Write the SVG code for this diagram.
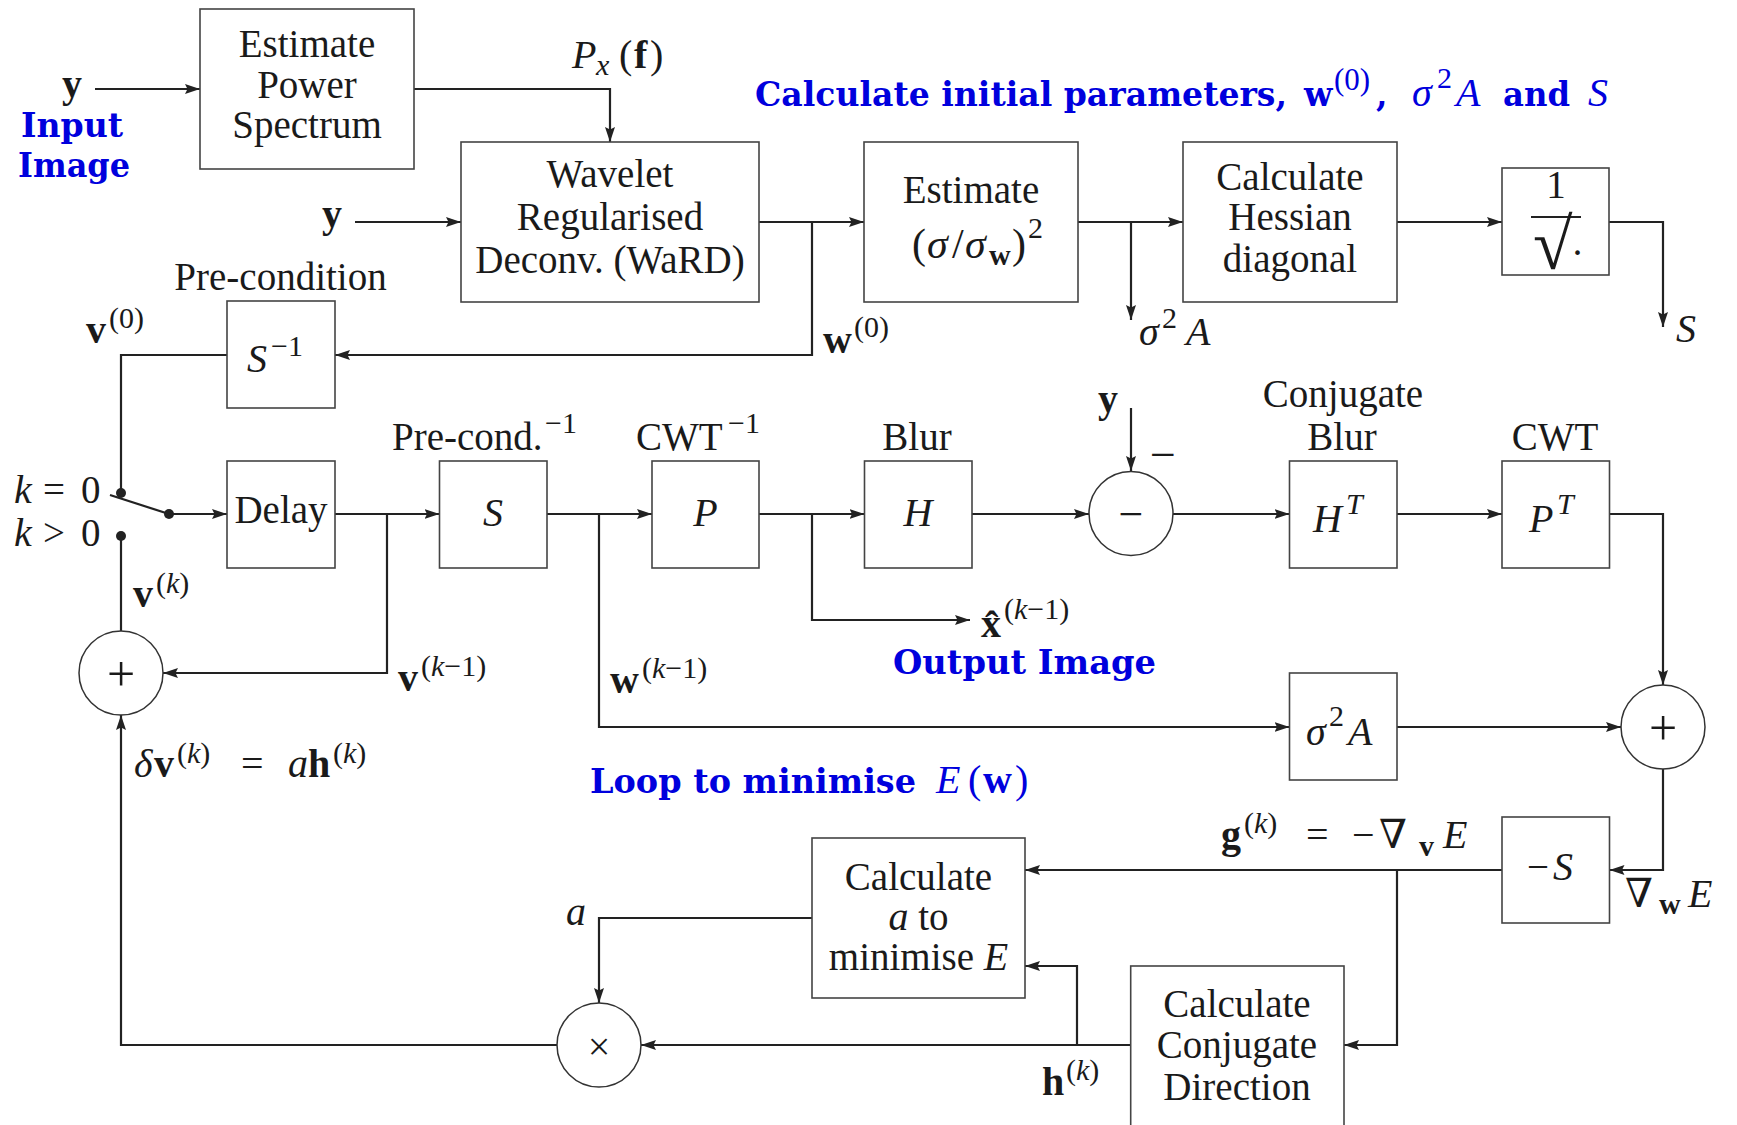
<svg xmlns="http://www.w3.org/2000/svg" width="1737" height="1125" viewBox="0 0 1737 1125">
<defs>
<style>
.box{fill:#fff;stroke:#444;stroke-width:1.6}
.cir{fill:#fff;stroke:#333;stroke-width:1.5}
.ln{fill:none;stroke:#222;stroke-width:2.2}
.ar{fill:none;stroke:#222;stroke-width:2.2;marker-end:url(#ah)}
.t{font-family:"Liberation Serif","DejaVu Serif",serif;font-size:39px;fill:#1a1a1a}
.m{text-anchor:middle}
.i{font-style:italic;font-size:40px}
.bd{font-weight:bold;font-size:40px}
.sp{font-size:30px;font-style:normal;font-weight:normal}
.spi{font-size:30px;font-style:italic;font-weight:normal}
.bl{font-family:"DejaVu Serif",serif;font-weight:bold;font-size:33px;fill:#0000dd}
.blm{font-family:"Liberation Serif","DejaVu Serif",serif;font-size:40px;fill:#0000dd}
.op{font-family:"Liberation Serif","DejaVu Serif",serif;fill:#1a1a1a;text-anchor:middle}
</style>
<marker id="ah" markerWidth="16" markerHeight="12" refX="15" refY="5" orient="auto" markerUnits="userSpaceOnUse">
<path d="M0,0 L15,5 L0,10 L2.5,5 z" fill="#222"/>
</marker>
</defs>
<rect width="1737" height="1125" fill="#fff"/>

<g id="connectors">
<path class="ar" d="M95,89 H200"/>
<path class="ar" d="M414,89 H610 V142"/>
<path class="ar" d="M355,222 H461"/>
<path class="ar" d="M759,222 H864"/>
<path class="ar" d="M812,222 V355 H335"/>
<path class="ln" d="M227,355 H121 V493"/>
<path class="ar" d="M1078,222 H1183"/>
<path class="ar" d="M1131,222 V320"/>
<path class="ar" d="M1397,222 H1502"/>
<path class="ar" d="M1609,222 H1663 V327"/>
<path class="ln" d="M110,495 L169,514"/>
<circle cx="121" cy="493" r="5" fill="#222"/>
<circle cx="169" cy="514" r="5" fill="#222"/>
<circle cx="121" cy="536" r="5" fill="#222"/>
<path class="ar" d="M169,514 H227"/>
<path class="ln" d="M121,536 V631"/>
<path class="ar" d="M335,514 H439.5"/>
<path class="ar" d="M387,514 V673 H163"/>
<path class="ar" d="M547,514 H652"/>
<path class="ar" d="M599,514 V727 H1289.5"/>
<path class="ar" d="M759,514 H864.5"/>
<path class="ar" d="M812,514 V620 H970"/>
<path class="ar" d="M972,514 H1089"/>
<path class="ar" d="M1131,408 V471"/>
<path class="ar" d="M1173,514 H1289.5"/>
<path class="ar" d="M1397,514 H1502"/>
<path class="ar" d="M1609.5,514 H1663 V685"/>
<path class="ar" d="M1397,727 H1621"/>
<path class="ar" d="M1663,769 V870 H1609.5"/>
<path class="ar" d="M1502,870 H1025"/>
<path class="ar" d="M1397,870 V1045 H1344"/>
<path class="ar" d="M1130.7,1045 H641"/>
<path class="ar" d="M1077,1045 V966 H1025"/>
<path class="ar" d="M812,918 H599 V1003"/>
<path class="ar" d="M557,1045 H121 V715"/>
</g>

<g id="node-eps">
<rect class="box" x="200" y="9" width="214" height="160"/>
<text class="t m" x="307" y="57">Estimate</text>
<text class="t m" x="307" y="98">Power</text>
<text class="t m" x="307" y="138">Spectrum</text>
</g>

<g id="node-ward">
<rect class="box" x="461" y="142" width="298" height="160"/>
<text class="t m" x="610" y="187">Wavelet</text>
<text class="t m" x="610" y="230">Regularised</text>
<text class="t m" x="610" y="273">Deconv. (WaRD)</text>
</g>

<g id="node-estsigma">
<rect class="box" x="864" y="142" width="214" height="160"/>
<text class="t m" x="971" y="203">Estimate</text>
<text class="t" y="258" style="font-size:42px"><tspan x="912">(</tspan><tspan x="927" font-style="italic">σ</tspan><tspan x="952">/</tspan><tspan x="965" font-style="italic">σ</tspan><tspan x="989" y="265" font-weight="bold" font-size="30">w</tspan><tspan x="1012" y="258">)</tspan><tspan x="1028" y="238" font-size="30">2</tspan></text>
</g>

<g id="node-hessian">
<rect class="box" x="1183" y="142" width="214" height="160"/>
<text class="t m" x="1290" y="190">Calculate</text>
<text class="t m" x="1290" y="230">Hessian</text>
<text class="t m" x="1290" y="272">diagonal</text>
</g>

<g id="node-invsqrt">
<rect class="box" x="1502" y="168" width="107" height="107"/>
<text class="t m" x="1556" y="198">1</text>
<line x1="1531" y1="217" x2="1581" y2="217" stroke="#222" stroke-width="2"/>
<text class="t" y="269"><tspan x="1533" font-size="72">√</tspan><tspan x="1571" y="266" font-size="39">·</tspan></text>
</g>

<g id="node-sinv">
<rect class="box" x="227" y="301" width="108" height="107"/>
<text class="t" y="372"><tspan x="247" class="i">S</tspan><tspan x="271" y="356" class="sp">−1</tspan></text>
</g>

<g id="node-delay">
<rect class="box" x="227" y="461" width="108" height="107"/>
<text class="t m" x="281" y="523">Delay</text>
</g>

<g id="node-s">
<rect class="box" x="439.5" y="461" width="107.5" height="107"/>
<text class="t m i" x="493" y="526">S</text>
</g>

<g id="node-p">
<rect class="box" x="652" y="461" width="107" height="107"/>
<text class="t m i" x="705.5" y="526">P</text>
</g>

<g id="node-h">
<rect class="box" x="864.5" y="461" width="107.5" height="107"/>
<text class="t m i" x="918" y="526">H</text>
</g>

<g id="node-minus">
<circle class="cir" cx="1131" cy="513.5" r="42"/>
<text class="op" x="1131" y="529" font-size="44">−</text>
</g>

<g id="node-ht">
<rect class="box" x="1289.5" y="461" width="107.5" height="107"/>
<text class="t" y="532"><tspan x="1313" class="i">H</tspan><tspan x="1346" y="514" class="spi">T</tspan></text>
</g>

<g id="node-pt">
<rect class="box" x="1502" y="461" width="107.5" height="107"/>
<text class="t" y="532"><tspan x="1529" class="i">P</tspan><tspan x="1557" y="514" class="spi">T</tspan></text>
</g>

<g id="node-sigma2a">
<rect class="box" x="1289.5" y="673" width="107.5" height="107"/>
<text class="t" y="745"><tspan x="1306" class="i">σ</tspan><tspan x="1329" y="726" class="sp">2</tspan><tspan x="1348" y="745" class="i">A</tspan></text>
</g>

<g id="node-plus-left">
<circle class="cir" cx="121" cy="673" r="42"/>
<text class="op" x="121" y="691" font-size="50">+</text>
</g>

<g id="node-plus-right">
<circle class="cir" cx="1663" cy="727" r="42"/>
<text class="op" x="1663" y="745" font-size="50">+</text>
</g>

<g id="node-minus-s">
<rect class="box" x="1502" y="817" width="107.5" height="106"/>
<text class="t" y="880"><tspan x="1527">−</tspan><tspan x="1553" class="i">S</tspan></text>
</g>

<g id="node-calc-a">
<rect class="box" x="812" y="838" width="213" height="160"/>
<text class="t m" x="918.5" y="890">Calculate</text>
<text class="t m" x="918.5" y="930"><tspan class="i">a</tspan> to</text>
<text class="t m" x="918.5" y="970">minimise <tspan class="i">E</tspan></text>
</g>

<g id="node-times">
<circle class="cir" cx="599" cy="1045" r="42"/>
<text class="op" x="599" y="1059.5" font-size="40">×</text>
</g>

<g id="node-conjdir">
<rect class="box" x="1130.7" y="966" width="213.3" height="162"/>
<text class="t m" x="1237" y="1017">Calculate</text>
<text class="t m" x="1237" y="1058">Conjugate</text>
<text class="t m" x="1237" y="1100">Direction</text>
</g>

<g id="labels">
<text class="t bd" x="62" y="97">y</text>
<text class="bl" x="21" y="137" textLength="102" lengthAdjust="spacingAndGlyphs">Input</text>
<text class="bl" x="18" y="177" textLength="112" lengthAdjust="spacingAndGlyphs">Image</text>
<text class="t" y="68"><tspan x="572" class="i">P</tspan><tspan x="596" y="75" class="spi">x</tspan><tspan x="619" y="68" font-size="40">(</tspan><tspan x="634" class="bd">f</tspan><tspan x="650" font-size="40">)</tspan></text>
<text class="t bd" x="322" y="227">y</text>
<text class="bl" x="755" y="106" textLength="532" lengthAdjust="spacingAndGlyphs">Calculate initial parameters,</text>
<text class="bl" y="106"><tspan x="1304">w</tspan><tspan x="1334" y="90" font-family="Liberation Serif" font-weight="normal" font-size="31px">(0)</tspan><tspan x="1376" y="106">,</tspan></text>
<text class="blm" y="106"><tspan x="1412" font-style="italic">σ</tspan><tspan x="1437" y="88" font-size="30px">2</tspan><tspan x="1456" y="106" font-style="italic">A</tspan></text>
<text class="bl" x="1503" y="106" textLength="67" lengthAdjust="spacingAndGlyphs">and</text>
<text class="blm" x="1588" y="106" font-style="italic">S</text>
<text class="t" y="345"><tspan x="1139" class="i">σ</tspan><tspan x="1162" y="328" class="sp">2</tspan><tspan x="1186" y="345" class="i">A</tspan></text>
<text class="t i" x="1676" y="342">S</text>
<text class="t m" x="280.5" y="290">Pre-condition</text>
<text class="t" y="343"><tspan x="86" class="bd">v</tspan><tspan x="109" y="328" class="sp">(0)</tspan></text>
<text class="t" y="353"><tspan x="823" class="bd">w</tspan><tspan x="854" y="337" class="sp">(0)</tspan></text>
<text class="t" y="503"><tspan x="14" class="i">k</tspan><tspan x="43">=</tspan><tspan x="81">0</tspan></text>
<text class="t" y="546"><tspan x="14" class="i">k</tspan><tspan x="43">&gt;</tspan><tspan x="81">0</tspan></text>
<text class="t" y="450"><tspan x="392">Pre-cond.</tspan><tspan x="545" y="433" class="sp">−1</tspan></text>
<text class="t" y="450"><tspan x="636">CWT</tspan><tspan x="728" y="433" class="sp">−1</tspan></text>
<text class="t m" x="917" y="450">Blur</text>
<text class="t bd" x="1098" y="412">y</text>
<text class="t m" x="1163" y="470" style="font-size:46px">−</text>
<text class="t m" x="1343" y="407">Conjugate</text>
<text class="t m" x="1342" y="450">Blur</text>
<text class="t m" x="1555" y="450">CWT</text>
<text class="t" y="607"><tspan x="133" class="bd">v</tspan><tspan x="156" y="593" class="sp">(<tspan font-style="italic">k</tspan>)</tspan></text>
<text class="t" y="691"><tspan x="398" class="bd">v</tspan><tspan x="421" y="676" class="sp">(<tspan font-style="italic">k</tspan>−1)</tspan></text>
<text class="t" y="693"><tspan x="610" class="bd">w</tspan><tspan x="642" y="678" class="sp">(<tspan font-style="italic">k</tspan>−1)</tspan></text>
<text class="t" y="637"><tspan x="981" class="bd">x̂</tspan><tspan x="1004" y="619" class="sp">(<tspan font-style="italic">k</tspan>−1)</tspan></text>
<text class="bl" x="893" y="674" textLength="263" lengthAdjust="spacingAndGlyphs">Output Image</text>
<text class="t" y="777"><tspan x="134" class="i">δ</tspan><tspan x="154" class="bd">v</tspan><tspan x="177" y="763" class="sp">(<tspan font-style="italic">k</tspan>)</tspan><tspan x="241" y="777" font-size="40">=</tspan><tspan x="288" class="i">a</tspan><tspan x="308" class="bd">h</tspan><tspan x="333" y="763" class="sp">(<tspan font-style="italic">k</tspan>)</tspan></text>
<text class="bl" x="590" y="793" textLength="326" lengthAdjust="spacingAndGlyphs">Loop to minimise</text>
<text class="blm" y="793"><tspan x="936" font-style="italic">E</tspan><tspan x="968">(</tspan><tspan x="983" font-weight="bold">w</tspan><tspan x="1015">)</tspan></text>
<text class="t" y="848"><tspan x="1221" class="bd">g</tspan><tspan x="1244" y="833" class="sp">(<tspan font-style="italic">k</tspan>)</tspan><tspan x="1306" y="848" font-size="40">=</tspan><tspan x="1352" font-size="40">−</tspan><tspan x="1379" font-size="40">∇</tspan><tspan x="1419" y="856" font-weight="bold" font-size="30">v</tspan><tspan x="1443" y="848" class="i">E</tspan></text>
<text class="t" y="907"><tspan x="1625" font-size="40">∇</tspan><tspan x="1659" y="914" font-weight="bold" font-size="30">w</tspan><tspan x="1688" y="907" class="i">E</tspan></text>
<text class="t i" x="566" y="925">a</text>
<text class="t" y="1095"><tspan x="1042" class="bd">h</tspan><tspan x="1066" y="1080" class="sp">(<tspan font-style="italic">k</tspan>)</tspan></text>
</g>
</svg>
